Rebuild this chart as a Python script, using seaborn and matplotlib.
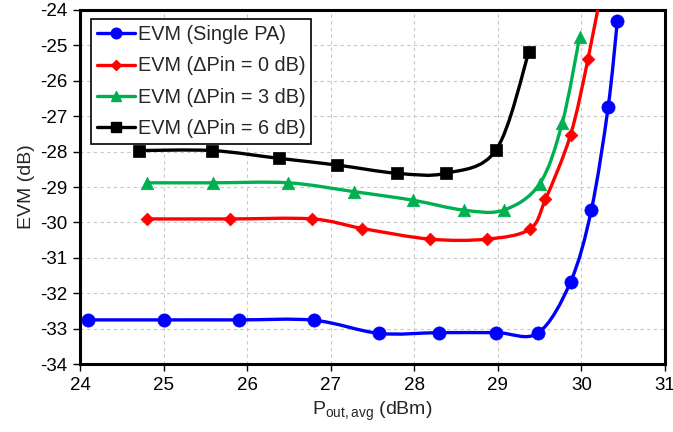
import numpy as np
import matplotlib
matplotlib.use("Agg")
import matplotlib.pyplot as plt
from matplotlib.path import Path
from matplotlib.patches import PathPatch
from matplotlib.lines import Line2D
import seaborn as sns

# values
single_x = [24.1, 25.0, 25.9, 26.8, 27.58, 28.29, 28.98, 29.48, 29.87, 30.12, 30.32, 30.43]
single_y = [-32.75, -32.75, -32.75, -32.76, -33.13, -33.11, -33.11, -33.12, -31.68, -29.64, -26.75, -24.32]

pin0_x = [24.8, 25.79, 26.78, 27.38, 28.19, 28.87, 29.38, 29.57, 29.87, 30.08, 30.25]
pin0_y = [-29.9, -29.9, -29.9, -30.17, -30.47, -30.47, -30.19, -29.35, -27.53, -25.38, -23.3]

pin3_x = [24.8, 25.59, 26.49, 27.28, 27.98, 28.59, 29.07, 29.5, 29.77, 29.98]
pin3_y = [-28.88, -28.88, -28.88, -29.13, -29.37, -29.65, -29.65, -28.91, -27.2, -24.75]

pin6_x = [24.7, 25.58, 26.38, 27.08, 27.79, 28.38, 28.98, 29.37]
pin6_y = [-27.97, -27.97, -28.19, -28.38, -28.61, -28.61, -27.95, -25.2]

series = [
    ("EVM (Single PA)", single_x, single_y, "#0000FF", "o", 9.5),
    ("EVM (\u0394Pin = 0 dB)", pin0_x, pin0_y, "#FF0000", "D", 6.5),
    ("EVM (\u0394Pin = 3 dB)", pin3_x, pin3_y, "#00B050", "^", 9),
    ("EVM (\u0394Pin = 6 dB)", pin6_x, pin6_y, "#000000", "s", 9),
]


def smooth_path(xs, ys):
    # Catmull-Rom style smoothing drawn as cubic bezier segments
    p = np.column_stack([xs, ys])
    verts = [p[0]]
    codes = [Path.MOVETO]
    n = len(p)
    for i in range(n - 1):
        p0 = p[i - 1] if i > 0 else p[i]
        p1 = p[i]
        p2 = p[i + 1]
        p3 = p[i + 2] if i + 2 < n else p[i + 1]
        c1 = p1 + (p2 - p0) / 6.0
        c2 = p2 - (p3 - p1) / 6.0
        verts += [c1, c2, p2]
        codes += [Path.CURVE4] * 3
    return Path(verts, codes)


sns.set_theme(style="ticks")
plt.rcParams["font.family"] = ["Liberation Sans", "DejaVu Sans"]
plt.rcParams["mathtext.fontset"] = "custom"
plt.rcParams["mathtext.rm"] = "Liberation Sans"
plt.rcParams["axes.unicode_minus"] = False

fig = plt.figure(figsize=(6.73, 4.32), dpi=100)
ax = fig.add_axes([0.119, 0.157, 0.869, 0.82])

handles = []
for label, xs, ys, col, mk, ms in series:
    patch = PathPatch(smooth_path(xs, ys), facecolor="none", edgecolor=col,
                      lw=2.4, zorder=3, capstyle="round", joinstyle="round")
    ax.add_patch(patch)
    sns.scatterplot(x=xs, y=ys, ax=ax, color=col, marker=mk, s=ms ** 2,
                    edgecolor=col, linewidth=0.5, zorder=4, legend=False)
    handles.append(Line2D([], [], color=col, marker=mk, markersize=ms * 0.8, lw=2.4, label=label))

ax.set_xlim(24, 31)
ax.set_ylim(-34, -24)
ax.set_xticks(range(24, 32))
ax.set_yticks(range(-34, -23))
ax.grid(True, color="#c8c8c8", linestyle=(0, (3, 3)), linewidth=0.8)
for s in ax.spines.values():
    s.set_linewidth(2.2)
    s.set_color("black")
ax.tick_params(axis="both", direction="out", length=5, width=1, colors="black",
               labelsize=13.5, pad=4)

ax.set_xlabel(r"P$_{\mathrm{out,avg}}$ (dBm)", fontsize=14, labelpad=4)
ax.set_ylabel("EVM (dB)", fontsize=14, labelpad=4)

leg = ax.legend(handles=handles, loc="upper left", bbox_to_anchor=(0.012, 0.985),
                fontsize=14.3, frameon=True, fancybox=False, framealpha=1,
                edgecolor="black", handlelength=1.9, handletextpad=0.15,
                borderpad=0.3, labelspacing=0.62, borderaxespad=0.2)
leg.get_frame().set_linewidth(1.2)

fig.savefig("out.png", dpi=100)
